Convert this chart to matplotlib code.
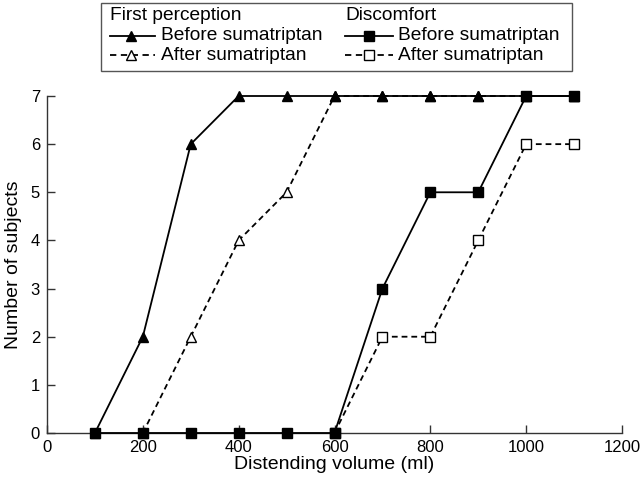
import matplotlib
matplotlib.use("Agg")
import matplotlib.pyplot as plt
from matplotlib.lines import Line2D
from matplotlib.patches import Rectangle

plt.rcParams['font.family'] = ['Liberation Sans', 'DejaVu Sans']

volume = [100, 200, 300, 400, 500, 600, 700, 800, 900, 1000, 1100]
fp_before = [0, 2, 6, 7, 7, 7, 7, 7, 7, 7, 7]
fp_after_vol = [200, 300, 400, 500, 600, 700, 800, 900, 1000, 1100]
fp_after = [0, 2, 4, 5, 7, 7, 7, 7, 7, 7]
dc_before = [0, 0, 0, 0, 0, 0, 3, 5, 5, 7, 7]
dc_after_vol = [600, 700, 800, 900, 1000, 1100]
dc_after = [0, 2, 2, 4, 6, 6]

fig = plt.figure(figsize=(6.4, 4.78), dpi=100)
ax = fig.add_axes([47/640, 1-433/478, (622-47)/640, (433-96)/478])

dash = (0, (3.2, 2.2))
lw = 1.3
ms = 7.5
ax.plot(fp_after_vol, fp_after, color='black', lw=lw, linestyle=dash, marker='^',
        markerfacecolor='white', markeredgecolor='black', markersize=ms, clip_on=False, zorder=3)
ax.plot(volume, fp_before, color='black', lw=lw, marker='^', markersize=ms,
        clip_on=False, zorder=4)
ax.plot(dc_after_vol, dc_after, color='black', lw=lw, linestyle=dash, marker='s',
        markerfacecolor='white', markeredgecolor='black', markersize=ms - 0.5, clip_on=False, zorder=5)
ax.plot(volume, dc_before, color='black', lw=lw, marker='s', markersize=ms - 0.5,
        clip_on=False, zorder=6)

ax.set_xlim(0, 1200)
ax.set_ylim(0, 7)
ax.set_xticks(range(0, 1201, 200))
ax.set_yticks(range(0, 8))
ax.spines['top'].set_visible(False)
ax.spines['right'].set_visible(False)
for s in ('left', 'bottom'):
    ax.spines[s].set_color('#333333')
    ax.spines[s].set_linewidth(1.0)
ax.tick_params(direction='in', length=6, width=1.0, color='#333333', labelsize=12, pad=5)
ax.set_xlabel('Distending volume (ml)', fontsize=14, labelpad=1)
ax.set_ylabel('Number of subjects', fontsize=14, labelpad=6)

# Legend box (figure pixel coordinates)
W, H = 640, 478
def fx(x): return x / W
def fy(y): return 1 - y / H

fig.patches.append(Rectangle((fx(101), fy(71)), fx(572) - fx(101), fy(3) - fy(71),
                             transform=fig.transFigure, fill=False, edgecolor='#555555', lw=1.0))
fs = 13.8
rows = [15, 36, 55]
cols = [(110, 155, 131, 161), (345, 393, 369, 398)]
titles = ['First perception', 'Discomfort']
styles = [
    [('-', '^', 'black'), ((0, (3.5, 2.5)), '^', 'white')],
    [('-', 's', 'black'), ((0, (3.5, 2.5)), 's', 'white')],
]
labels = ['Before sumatriptan', 'After sumatriptan']
for ci, (x0, x1, xm, xt) in enumerate(cols):
    fig.text(fx(x0), fy(rows[0]), titles[ci], fontsize=fs, va='center', ha='left')
    for ri in range(2):
        ls, mk, fc = styles[ci][ri]
        y = fy(rows[ri + 1])
        fig.lines.append(Line2D([fx(x0), fx(x1)], [y, y], transform=fig.transFigure,
                                color='black', lw=lw, linestyle=ls))
        fig.lines.append(Line2D([fx(xm)], [y], transform=fig.transFigure, marker=mk,
                                markersize=ms - 0.5, markerfacecolor=fc, markeredgecolor='black',
                                linestyle='none'))
        fig.text(fx(xt), y, labels[ri], fontsize=fs, va='center', ha='left')

fig.savefig('out.png', dpi=100)
